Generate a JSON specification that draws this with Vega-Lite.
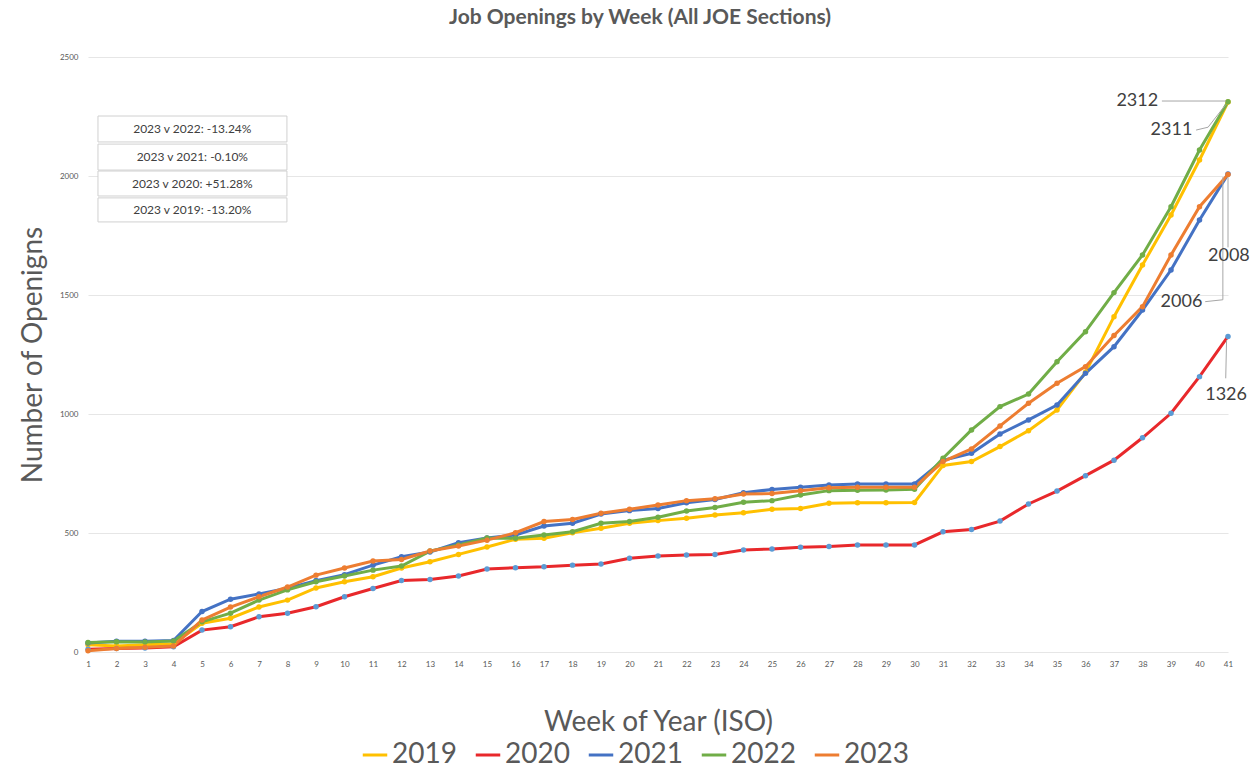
{
  "$schema": "https://vega.github.io/schema/vega-lite/v6.json",
  "autosize": "none",
  "width": 1140,
  "height": 595,
  "padding": {"left": 88, "top": 57, "right": 31, "bottom": 130},
  "background": "white",
  "title": {"text": "Job Openings by Week (All JOE Sections)", "fontSize": 21, "fontWeight": "bold", "color": "#595959", "font": "Lato", "anchor": "middle", "offset": 25, "dx": -18},
  "config": {"view": {"stroke": null}, "font": "Lato", "axisX": {"labelOverlap": false, "labelFlush": false, "labelBound": false, "labelSeparation": 0}},
  "datasets": {
    "series": [
      {"week":1,"year":"2019","n":30},{"week":1,"year":"2020","n":12},{"week":1,"year":"2021","n":38},{"week":1,"year":"2022","n":40},{"week":1,"year":"2023","n":5},
      {"week":2,"year":"2019","n":25},{"week":2,"year":"2020","n":15},{"week":2,"year":"2021","n":45},{"week":2,"year":"2022","n":43},{"week":2,"year":"2023","n":15},
      {"week":3,"year":"2019","n":30},{"week":3,"year":"2020","n":17},{"week":3,"year":"2021","n":45},{"week":3,"year":"2022","n":42},{"week":3,"year":"2023","n":20},
      {"week":4,"year":"2019","n":35},{"week":4,"year":"2020","n":22},{"week":4,"year":"2021","n":48},{"week":4,"year":"2022","n":46},{"week":4,"year":"2023","n":25},
      {"week":5,"year":"2019","n":121},{"week":5,"year":"2020","n":92},{"week":5,"year":"2021","n":170},{"week":5,"year":"2022","n":127},{"week":5,"year":"2023","n":134},
      {"week":6,"year":"2019","n":142},{"week":6,"year":"2020","n":106},{"week":6,"year":"2021","n":222},{"week":6,"year":"2022","n":163},{"week":6,"year":"2023","n":189},
      {"week":7,"year":"2019","n":189},{"week":7,"year":"2020","n":148},{"week":7,"year":"2021","n":244},{"week":7,"year":"2022","n":218},{"week":7,"year":"2023","n":232},
      {"week":8,"year":"2019","n":218},{"week":8,"year":"2020","n":163},{"week":8,"year":"2021","n":268},{"week":8,"year":"2022","n":261},{"week":8,"year":"2023","n":273},
      {"week":9,"year":"2019","n":269},{"week":9,"year":"2020","n":190},{"week":9,"year":"2021","n":300},{"week":9,"year":"2022","n":295},{"week":9,"year":"2023","n":323},
      {"week":10,"year":"2019","n":295},{"week":10,"year":"2020","n":232},{"week":10,"year":"2021","n":325},{"week":10,"year":"2022","n":319},{"week":10,"year":"2023","n":353},
      {"week":11,"year":"2019","n":316},{"week":11,"year":"2020","n":267},{"week":11,"year":"2021","n":365},{"week":11,"year":"2022","n":344},{"week":11,"year":"2023","n":382},
      {"week":12,"year":"2019","n":353},{"week":12,"year":"2020","n":300},{"week":12,"year":"2021","n":400},{"week":12,"year":"2022","n":361},{"week":12,"year":"2023","n":389},
      {"week":13,"year":"2019","n":379},{"week":13,"year":"2020","n":305},{"week":13,"year":"2021","n":420},{"week":13,"year":"2022","n":424},{"week":13,"year":"2023","n":424},
      {"week":14,"year":"2019","n":410},{"week":14,"year":"2020","n":319},{"week":14,"year":"2021","n":459},{"week":14,"year":"2022","n":450},{"week":14,"year":"2023","n":445},
      {"week":15,"year":"2019","n":441},{"week":15,"year":"2020","n":349},{"week":15,"year":"2021","n":479},{"week":15,"year":"2022","n":479},{"week":15,"year":"2023","n":470},
      {"week":16,"year":"2019","n":474},{"week":16,"year":"2020","n":354},{"week":16,"year":"2021","n":492},{"week":16,"year":"2022","n":478},{"week":16,"year":"2023","n":501},
      {"week":17,"year":"2019","n":478},{"week":17,"year":"2020","n":358},{"week":17,"year":"2021","n":529},{"week":17,"year":"2022","n":492},{"week":17,"year":"2023","n":548},
      {"week":18,"year":"2019","n":501},{"week":18,"year":"2020","n":365},{"week":18,"year":"2021","n":541},{"week":18,"year":"2022","n":505},{"week":18,"year":"2023","n":557},
      {"week":19,"year":"2019","n":520},{"week":19,"year":"2020","n":370},{"week":19,"year":"2021","n":580},{"week":19,"year":"2022","n":541},{"week":19,"year":"2023","n":583},
      {"week":20,"year":"2019","n":541},{"week":20,"year":"2020","n":394},{"week":20,"year":"2021","n":594},{"week":20,"year":"2022","n":548},{"week":20,"year":"2023","n":600},
      {"week":21,"year":"2019","n":552},{"week":21,"year":"2020","n":403},{"week":21,"year":"2021","n":603},{"week":21,"year":"2022","n":566},{"week":21,"year":"2023","n":618},
      {"week":22,"year":"2019","n":562},{"week":22,"year":"2020","n":408},{"week":22,"year":"2021","n":627},{"week":22,"year":"2022","n":592},{"week":22,"year":"2023","n":636},
      {"week":23,"year":"2019","n":576},{"week":23,"year":"2020","n":410},{"week":23,"year":"2021","n":641},{"week":23,"year":"2022","n":607},{"week":23,"year":"2023","n":644},
      {"week":24,"year":"2019","n":585},{"week":24,"year":"2020","n":429},{"week":24,"year":"2021","n":669},{"week":24,"year":"2022","n":629},{"week":24,"year":"2023","n":664},
      {"week":25,"year":"2019","n":600},{"week":25,"year":"2020","n":433},{"week":25,"year":"2021","n":683},{"week":25,"year":"2022","n":636},{"week":25,"year":"2023","n":666},
      {"week":26,"year":"2019","n":603},{"week":26,"year":"2020","n":440},{"week":26,"year":"2021","n":692},{"week":26,"year":"2022","n":660},{"week":26,"year":"2023","n":678},
      {"week":27,"year":"2019","n":625},{"week":27,"year":"2020","n":443},{"week":27,"year":"2021","n":702},{"week":27,"year":"2022","n":678},{"week":27,"year":"2023","n":690},
      {"week":28,"year":"2019","n":627},{"week":28,"year":"2020","n":450},{"week":28,"year":"2021","n":706},{"week":28,"year":"2022","n":680},{"week":28,"year":"2023","n":692},
      {"week":29,"year":"2019","n":627},{"week":29,"year":"2020","n":450},{"week":29,"year":"2021","n":706},{"week":29,"year":"2022","n":681},{"week":29,"year":"2023","n":692},
      {"week":30,"year":"2019","n":628},{"week":30,"year":"2020","n":450},{"week":30,"year":"2021","n":706},{"week":30,"year":"2022","n":684},{"week":30,"year":"2023","n":692},
      {"week":31,"year":"2019","n":784},{"week":31,"year":"2020","n":505},{"week":31,"year":"2021","n":805},{"week":31,"year":"2022","n":814},{"week":31,"year":"2023","n":800},
      {"week":32,"year":"2019","n":800},{"week":32,"year":"2020","n":515},{"week":32,"year":"2021","n":835},{"week":32,"year":"2022","n":933},{"week":32,"year":"2023","n":853},
      {"week":33,"year":"2019","n":863},{"week":33,"year":"2020","n":550},{"week":33,"year":"2021","n":916},{"week":33,"year":"2022","n":1031},{"week":33,"year":"2023","n":950},
      {"week":34,"year":"2019","n":930},{"week":34,"year":"2020","n":622},{"week":34,"year":"2021","n":975},{"week":34,"year":"2022","n":1084},{"week":34,"year":"2023","n":1045},
      {"week":35,"year":"2019","n":1017},{"week":35,"year":"2020","n":676},{"week":35,"year":"2021","n":1038},{"week":35,"year":"2022","n":1220},{"week":35,"year":"2023","n":1129},
      {"week":36,"year":"2019","n":1175},{"week":36,"year":"2020","n":741},{"week":36,"year":"2021","n":1171},{"week":36,"year":"2022","n":1346},{"week":36,"year":"2023","n":1199},
      {"week":37,"year":"2019","n":1409},{"week":37,"year":"2020","n":806},{"week":37,"year":"2021","n":1283},{"week":37,"year":"2022","n":1510},{"week":37,"year":"2023","n":1330},
      {"week":38,"year":"2019","n":1626},{"week":38,"year":"2020","n":900},{"week":38,"year":"2021","n":1437},{"week":38,"year":"2022","n":1668},{"week":38,"year":"2023","n":1451},
      {"week":39,"year":"2019","n":1836},{"week":39,"year":"2020","n":1003},{"week":39,"year":"2021","n":1605},{"week":39,"year":"2022","n":1871},{"week":39,"year":"2023","n":1668},
      {"week":40,"year":"2019","n":2067},{"week":40,"year":"2020","n":1157},{"week":40,"year":"2021","n":1815},{"week":40,"year":"2022","n":2109},{"week":40,"year":"2023","n":1871},
      {"week":41,"year":"2019","n":2311},{"week":41,"year":"2020","n":1326},{"week":41,"year":"2021","n":2008},{"week":41,"year":"2022","n":2312},{"week":41,"year":"2023","n":2006}
    ],
    "boxes": [
      {"label":"2023 v 2022: -13.24%","x1":1.35,"x2":7.98,"y1":2252,"y2":2143,"yc":2197},
      {"label":"2023 v 2021: -0.10%","x1":1.35,"x2":7.98,"y1":2134,"y2":2025,"yc":2080},
      {"label":"2023 v 2020: +51.28%","x1":1.35,"x2":7.98,"y1":2021,"y2":1916,"yc":1968},
      {"label":"2023 v 2019: -13.20%","x1":1.35,"x2":7.98,"y1":1908,"y2":1807,"yc":1857}
    ],
    "labels": [
      {"label":"2312","x":38.55,"y":2315,"align":"right"},
      {"label":"2311","x":39.75,"y":2193,"align":"right"},
      {"label":"2008","x":40.3,"y":1664,"align":"left"},
      {"label":"2006","x":40.1,"y":1471,"align":"right"},
      {"label":"1326","x":40.2,"y":1080,"align":"left"}
    ],
    "leaders": [
      {"x":38.68,"y":2315,"x2":40.93,"y2":2315},
      {"x":39.88,"y":2193,"x2":40.3,"y2":2205},
      {"x":40.3,"y":2205,"x2":40.92,"y2":2300},
      {"x":41.0,"y":1995,"x2":41.0,"y2":1700},
      {"x":40.82,"y":1995,"x2":40.82,"y2":1480},
      {"x":40.82,"y":1480,"x2":40.2,"y2":1472},
      {"x":40.95,"y":1310,"x2":40.92,"y2":1150}
    ]
  },
  "layer": [
    {
      "data": {"name": "series"},
      "mark": {"type": "line", "strokeWidth": 3},
      "encoding": {
        "x": {"field": "week", "type": "quantitative", "scale": {"domain": [1, 41], "nice": false, "zero": false},
          "axis": {"values": [1,2,3,4,5,6,7,8,9,10,11,12,13,14,15,16,17,18,19,20,21,22,23,24,25,26,27,28,29,30,31,32,33,34,35,36,37,38,39,40,41],
            "tickCount": 41,
            "title": "Week of Year (ISO)", "titleFontSize": 28, "titleFontWeight": "normal", "titleColor": "#595959", "titlePadding": 40,
            "labelFontSize": 8, "labelColor": "#595959", "labelPadding": 8, "labelOverlap": false, "ticks": false, "domain": false, "grid": false, "labelFlush": false}},
        "y": {"field": "n", "type": "quantitative", "scale": {"domain": [0, 2500], "nice": false},
          "axis": {"values": [0, 500, 1000, 1500, 2000, 2500], "format": "d", "title": "Number of Openigns", "titleFontSize": 28, "titleFontWeight": "normal", "titleColor": "#595959", "titlePadding": 12,
            "labelFontSize": 8, "labelColor": "#595959", "labelPadding": 10, "ticks": false, "domain": false, "grid": true, "gridColor": "#E6E6E6", "gridWidth": 1.2}},
        "color": {"field": "year", "type": "nominal",
          "scale": {"domain": ["2019","2020","2021","2022","2023"], "range": ["#FFC000","#E8282B","#4472C4","#70AD47","#ED7D31"]},
          "legend": {"title": null, "orient": "none", "legendX": 273, "legendY": 684, "direction": "horizontal", "labelFontSize": 28, "labelColor": "#595959",
            "symbolType": "stroke", "symbolStrokeWidth": 3, "symbolSize": 600, "columnPadding": 12, "labelOffset": 3, "padding": 0}}
      }
    },
    {
      "data": {"name": "series"},
      "mark": {"type": "point", "filled": true, "size": 30, "shape": "circle", "opacity": 1},
      "encoding": {
        "x": {"field": "week", "type": "quantitative"},
        "y": {"field": "n", "type": "quantitative"},
        "fill": {"field": "year", "type": "nominal",
          "scale": {"domain": ["2019","2020","2021","2022","2023"], "range": ["#FFC000","#5B9BD5","#4472C4","#70AD47","#ED7D31"]},
          "legend": null}
      }
    },
    {
      "data": {"name": "boxes"},
      "mark": {"type": "rect", "fill": "white", "stroke": "#D0D0D0", "strokeWidth": 1},
      "encoding": {
        "x": {"field": "x1", "type": "quantitative"},
        "x2": {"field": "x2"},
        "y": {"field": "y1", "type": "quantitative"},
        "y2": {"field": "y2"}
      }
    },
    {
      "data": {"name": "boxes"},
      "mark": {"type": "text", "fontSize": 12, "color": "#404040", "align": "center", "baseline": "middle"},
      "encoding": {
        "x": {"datum": 4.66, "type": "quantitative"},
        "y": {"field": "yc", "type": "quantitative"},
        "text": {"field": "label"}
      }
    },
    {
      "data": {"name": "leaders"},
      "mark": {"type": "rule", "color": "#A6A6A6", "strokeWidth": 1},
      "encoding": {
        "x": {"field": "x", "type": "quantitative"},
        "x2": {"field": "x2"},
        "y": {"field": "y", "type": "quantitative"},
        "y2": {"field": "y2"}
      }
    },
    {
      "data": {"name": "labels"},
      "transform": [{"filter": "datum.align == 'right'"}],
      "mark": {"type": "text", "fontSize": 18, "color": "#404040", "align": "right", "baseline": "middle"},
      "encoding": {
        "x": {"field": "x", "type": "quantitative"},
        "y": {"field": "y", "type": "quantitative"},
        "text": {"field": "label"}
      }
    },
    {
      "data": {"name": "labels"},
      "transform": [{"filter": "datum.align == 'left'"}],
      "mark": {"type": "text", "fontSize": 18, "color": "#404040", "align": "left", "baseline": "middle"},
      "encoding": {
        "x": {"field": "x", "type": "quantitative"},
        "y": {"field": "y", "type": "quantitative"},
        "text": {"field": "label"}
      }
    }
  ]
}
